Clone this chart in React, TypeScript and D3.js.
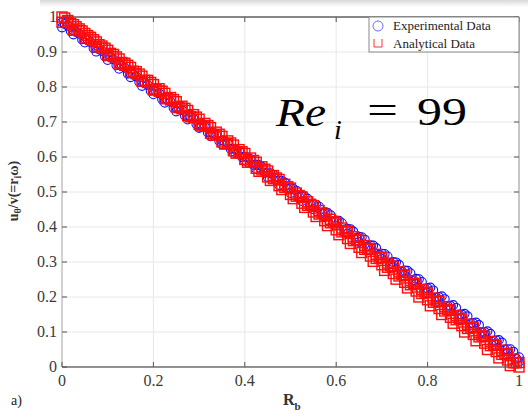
import React from "react";
import * as d3 from "d3";

const xs = [0, 0.025, 0.05, 0.075, 0.1, 0.125, 0.15, 0.175, 0.2, 0.225, 0.25, 0.275, 0.3, 0.325, 0.35, 0.375, 0.4, 0.425, 0.45, 0.475, 0.5, 0.525, 0.55, 0.575, 0.6, 0.625, 0.65, 0.675, 0.7, 0.725, 0.75, 0.775, 0.8, 0.825, 0.85, 0.875, 0.9, 0.925, 0.95, 0.975, 1];
const xsMid = [0.0125, 0.0375, 0.0625, 0.0875, 0.1125, 0.1375, 0.1625, 0.1875, 0.2125, 0.2375, 0.2625, 0.2875, 0.3125, 0.3375, 0.3625, 0.3875, 0.4125, 0.4375, 0.4625, 0.4875, 0.5125, 0.5375, 0.5625, 0.5875, 0.6125, 0.6375, 0.6625, 0.6875, 0.7125, 0.7375, 0.7625, 0.7875, 0.8125, 0.8375, 0.8625, 0.8875, 0.9125, 0.9375, 0.9625, 0.9875];
const xsQ1 = [0.006, 0.031, 0.056, 0.081, 0.106, 0.131, 0.156, 0.181, 0.206, 0.231, 0.256, 0.281, 0.306, 0.331, 0.356, 0.381, 0.406, 0.431, 0.456, 0.481, 0.506, 0.531, 0.556, 0.581, 0.606, 0.631, 0.656, 0.681, 0.706, 0.731, 0.756, 0.781, 0.806, 0.831, 0.856, 0.881, 0.906, 0.931, 0.956, 0.981];
const xsQ3 = [0.019, 0.044, 0.069, 0.094, 0.119, 0.144, 0.169, 0.194, 0.219, 0.244, 0.269, 0.294, 0.319, 0.344, 0.369, 0.394, 0.419, 0.444, 0.469, 0.494, 0.519, 0.544, 0.569, 0.594, 0.619, 0.644, 0.669, 0.694, 0.719, 0.744, 0.769, 0.794, 0.819, 0.844, 0.869, 0.894, 0.919, 0.944, 0.969, 0.994];

// Experimental (blue circles)
const exp1 = [0.985, 0.962, 0.938, 0.913, 0.888, 0.865, 0.839, 0.815, 0.790, 0.766, 0.742, 0.718, 0.694, 0.670, 0.647, 0.624, 0.601, 0.578, 0.556, 0.533, 0.511, 0.488, 0.465, 0.442, 0.419, 0.395, 0.372, 0.348, 0.324, 0.300, 0.276, 0.252, 0.225, 0.200, 0.175, 0.150, 0.125, 0.100, 0.076, 0.051, 0.028];
const exp2 = [0.970, 0.950, 0.927, 0.901, 0.877, 0.852, 0.828, 0.803, 0.779, 0.755, 0.730, 0.707, 0.683, 0.659, 0.636, 0.612, 0.589, 0.566, 0.543, 0.520, 0.497, 0.474, 0.451, 0.428, 0.404, 0.381, 0.357, 0.333, 0.309, 0.285, 0.261, 0.237, 0.212, 0.188, 0.163, 0.138, 0.113, 0.088, 0.063, 0.039, 0.015];
const exp3 = [0.975, 0.952, 0.928, 0.903, 0.879, 0.855, 0.830, 0.806, 0.782, 0.758, 0.734, 0.710, 0.687, 0.663, 0.640, 0.617, 0.594, 0.572, 0.549, 0.527, 0.504, 0.481, 0.458, 0.434, 0.411, 0.387, 0.364, 0.340, 0.316, 0.292, 0.268, 0.243, 0.219, 0.194, 0.169, 0.145, 0.120, 0.095, 0.070, 0.044];
const exp4 = [0.980, 0.957, 0.934, 0.909, 0.885, 0.860, 0.836, 0.812, 0.788, 0.764, 0.740, 0.716, 0.692, 0.668, 0.645, 0.622, 0.599, 0.577, 0.554, 0.532, 0.509, 0.487, 0.464, 0.441, 0.418, 0.394, 0.371, 0.347, 0.323, 0.299, 0.275, 0.251, 0.227, 0.202, 0.177, 0.152, 0.127, 0.102, 0.077, 0.051];
const exp5 = [0.960, 0.936, 0.911, 0.887, 0.862, 0.838, 0.814, 0.789, 0.765, 0.741, 0.718, 0.694, 0.670, 0.646, 0.623, 0.600, 0.577, 0.554, 0.532, 0.509, 0.486, 0.463, 0.440, 0.416, 0.393, 0.369, 0.345, 0.321, 0.297, 0.273, 0.248, 0.224, 0.199, 0.175, 0.150, 0.125, 0.100, 0.075, 0.050, 0.024];

// Analytical (red squares)
const ana1 = [1.000, 0.978, 0.953, 0.929, 0.905, 0.880, 0.856, 0.831, 0.807, 0.782, 0.758, 0.733, 0.708, 0.684, 0.659, 0.634, 0.610, 0.585, 0.560, 0.536, 0.511, 0.486, 0.461, 0.436, 0.412, 0.387, 0.362, 0.337, 0.312, 0.287, 0.262, 0.237, 0.212, 0.187, 0.162, 0.137, 0.112, 0.087, 0.062, 0.037, 0.013];
const ana2 = [0.985, 0.963, 0.940, 0.915, 0.891, 0.866, 0.842, 0.817, 0.792, 0.767, 0.743, 0.718, 0.693, 0.668, 0.643, 0.618, 0.593, 0.568, 0.543, 0.518, 0.493, 0.468, 0.443, 0.418, 0.392, 0.367, 0.342, 0.317, 0.292, 0.267, 0.242, 0.217, 0.192, 0.167, 0.142, 0.118, 0.093, 0.068, 0.044, 0.020, 0.000];
const ana3 = [0.990, 0.966, 0.942, 0.917, 0.893, 0.868, 0.844, 0.819, 0.795, 0.770, 0.745, 0.721, 0.696, 0.671, 0.646, 0.621, 0.597, 0.572, 0.547, 0.522, 0.497, 0.472, 0.447, 0.422, 0.397, 0.372, 0.347, 0.322, 0.297, 0.272, 0.247, 0.222, 0.197, 0.172, 0.147, 0.122, 0.098, 0.073, 0.048, 0.023];
const ana4 = [0.982, 0.960, 0.935, 0.911, 0.886, 0.862, 0.837, 0.813, 0.788, 0.764, 0.739, 0.714, 0.690, 0.665, 0.640, 0.615, 0.590, 0.565, 0.540, 0.515, 0.490, 0.465, 0.440, 0.415, 0.390, 0.364, 0.339, 0.314, 0.289, 0.264, 0.239, 0.214, 0.189, 0.164, 0.139, 0.114, 0.089, 0.064, 0.039, 0.012];
const ana5 = [0.997, 0.972, 0.947, 0.921, 0.896, 0.870, 0.845, 0.819, 0.793, 0.767, 0.741, 0.715, 0.689, 0.663, 0.637, 0.611, 0.585, 0.559, 0.533, 0.507, 0.481, 0.456, 0.430, 0.404, 0.378, 0.353, 0.327, 0.302, 0.276, 0.251, 0.226, 0.200, 0.175, 0.150, 0.125, 0.100, 0.075, 0.050, 0.026, 0.004];
const ana6 = [0.985, 0.961, 0.936, 0.911, 0.887, 0.862, 0.838, 0.813, 0.788, 0.763, 0.738, 0.713, 0.688, 0.663, 0.638, 0.613, 0.588, 0.563, 0.538, 0.513, 0.488, 0.462, 0.437, 0.412, 0.386, 0.361, 0.336, 0.310, 0.285, 0.260, 0.235, 0.210, 0.185, 0.160, 0.135, 0.110, 0.086, 0.061, 0.036, 0.012];

const xTicks = [0, 0.2, 0.4, 0.6, 0.8, 1];
const yTicks = [0, 0.1, 0.2, 0.3, 0.4, 0.5, 0.6, 0.7, 0.8, 0.9, 1];
const legendLabels = ["Experimental Data", "Analytical Data"];

const W = 528;
const H = 419;
const L = 62, R = 519, T = 17, B = 367;

export default function App() {
  const x = d3.scaleLinear().domain([0, 1]).range([L, R]);
  const y = d3.scaleLinear().domain([0, 1]).range([B, T]);
  const fmt = (v: number) => String(v);

  const expSeries: [number[], number[]][] = [[xs, exp1], [xsQ1, exp4], [xsQ3, exp5], [xs, exp2], [xsMid, exp3]];
  const anaSeries: [number[], number[]][] = [[xs, ana1], [xsQ1, ana5], [xsQ3, ana4], [xs, ana2], [xsMid, ana3], [xsMid, ana6]];

  const tickColor = "#3a3a3a";

  return (
    <svg width={W} height={H} style={{ position: "absolute", left: 0, top: 0, background: "#fff", fontFamily: "'Liberation Serif', serif" }}>
      <defs>
        <linearGradient id="shadow" x1="0" y1="0" x2="0" y2="1">
          <stop offset="0" stopColor="#d8d8d8" />
          <stop offset="1" stopColor="#ffffff" />
        </linearGradient>
      </defs>
      <rect x={0} y={0} width={W} height={H} fill="#fff" />
      <rect x={40} y={0} width={W - 40} height={7} fill="url(#shadow)" />

      {/* grid */}
      {yTicks.map((t) => (
        <line key={"gy" + t} x1={L} x2={R} y1={y(t)} y2={y(t)} stroke="#e8e8e8" strokeWidth={1} />
      ))}
      {xTicks.map((t) => (
        <line key={"gx" + t} x1={x(t)} x2={x(t)} y1={T} y2={B} stroke="#e8e8e8" strokeWidth={1} />
      ))}

      {/* frame */}
      <line x1={L} x2={R} y1={T} y2={T} stroke="#1a1a1a" strokeWidth={1.2} />
      <line x1={R} x2={R} y1={T} y2={B} stroke="#9a9a9a" strokeWidth={1} />
      <line x1={L} x2={L} y1={T} y2={B} stroke="#b0b0b0" strokeWidth={1} />
      <line x1={L} x2={R} y1={B} y2={B} stroke="#707070" strokeWidth={1.5} />

      {/* ticks */}
      {yTicks.map((t) => (
        <g key={"ty" + t}>
          <line x1={L} x2={L + 5} y1={y(t)} y2={y(t)} stroke="#555" />
          <line x1={R} x2={R - 5} y1={y(t)} y2={y(t)} stroke="#555" />
          <text x={L - 5} y={y(t) + 5} textAnchor="end" fontSize={16} fill={tickColor}>{fmt(t)}</text>
        </g>
      ))}
      {xTicks.map((t) => (
        <g key={"tx" + t}>
          <line x1={x(t)} x2={x(t)} y1={B} y2={B - 5} stroke="#555" />
          <line x1={x(t)} x2={x(t)} y1={T} y2={T + 5} stroke="#555" />
          <text x={x(t)} y={B + 19} textAnchor="middle" fontSize={16} fill={tickColor}>{fmt(t)}</text>
        </g>
      ))}

      {/* experimental */}
      {expSeries.map(([xv, yv], si) =>
        yv.map((v, i) => (
          <circle key={"e" + si + "-" + i} cx={x(xv[i])} cy={y(v)} r={4.4} fill="none" stroke="#1010ff" strokeWidth={1.1} />
        ))
      )}
      {/* analytical */}
      {anaSeries.map(([xv, yv], si) =>
        yv.map((v, i) => (
          <rect key={"a" + si + "-" + i} x={x(xv[i]) - 5} y={y(v) - 5} width={10} height={10} fill="none" stroke="#ff0c0c" strokeWidth={1.4} />
        ))
      )}

      {/* legend */}
      <rect x={369} y={T} width={R - 369} height={35} fill="#fff" stroke="#888" strokeWidth={1} />
      <circle cx={378} cy={26} r={5} fill="none" stroke="#6a6aff" strokeWidth={1} />
      <text x={393} y={30} fontSize={13} fill="#222">{legendLabels[0]}</text>
      <path d="M374,39 L374,47 L382,47 L382,39" fill="none" stroke="#ff3030" strokeWidth={1} />
      <text x={393} y={48} fontSize={13} fill="#222">{legendLabels[1]}</text>

      {/* annotation */}
      <text x={276} y={126} fontSize={40} fontStyle="italic" fill="#000" textLength={50} lengthAdjust="spacingAndGlyphs">Re</text>
      <text x={334} y={139} fontSize={28} fontStyle="italic" fill="#000">i</text>
      <text x={367} y={124} fontSize={40} fill="#000" textLength={31} lengthAdjust="spacingAndGlyphs">=</text>
      <text x={417} y={125} fontSize={41} fill="#000" textLength={50} lengthAdjust="spacingAndGlyphs">99</text>

      {/* axis labels */}
      <text transform="translate(18,191) rotate(-90)" textAnchor="middle" fontSize={14} fontWeight="bold" fill="#333">
        u<tspan fontSize={10} dy={3}>θ</tspan><tspan dy={-3}>/v(=r</tspan><tspan fontSize={10} dy={3}>i</tspan><tspan dy={-3}>ω)</tspan>
      </text>
      <text x={283} y={405} fontSize={16} fontWeight="bold" fill="#333">R<tspan fontSize={11} dy={5}>b</tspan></text>
      <text x={11} y={405} fontSize={14} fill="#222">a)</text>
    </svg>
  );
}
